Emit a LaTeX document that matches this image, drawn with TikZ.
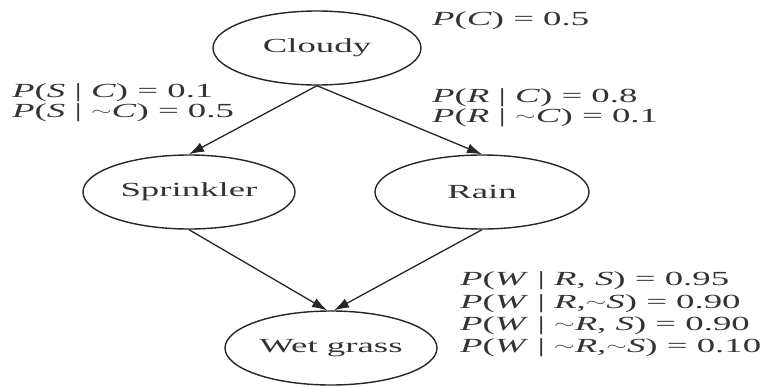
\documentclass[tikz,border=0pt]{standalone}
\usepackage{fontspec}
\setmainfont{Liberation Serif}
\usepackage{graphicx}
\usetikzlibrary{shapes.geometric,arrows.meta,calc}
\newcommand{\hs}[1]{\scalebox{1.84}[1]{#1}}
\newcommand{\nt}{\raisebox{1.6pt}{\fontsize{14}{14}\selectfont$\sim$}}
\newcommand{\mv}[1]{\textit{#1}}
\tikzset{
  bnode/.style={draw=black!85, line width=1.4pt, ellipse, inner sep=0pt,
    minimum width=#1, minimum height=74pt, text=black!80},
  bnode/.default=210pt,
  lbl/.style={inner sep=0pt, anchor=base west, text=black!80},
  edge/.style={draw=black!85, line width=1.3pt, -{Latex[length=15pt,width=10pt]}}
}
\begin{document}
\begin{tikzpicture}[x=1pt,y=-1pt, font=\fontsize{20}{24}\selectfont]
\useasboundingbox (0,0) rectangle (761,386);
\node[bnode=208pt] (cloudy) at (317,48) {\hs{Cloudy}};
\node[bnode=212pt] (sprinkler) at (189,192) {\hs{Sprinkler}};
\node[bnode=214pt] (rain) at (482,192) {\hs{Rain}};
\node[bnode=212pt] (wet) at (331,348) {\hs{Wet grass}};
\draw[edge] (cloudy.south) -- (sprinkler.north);
\draw[edge] (cloudy.south) -- (rain.north);
\draw[edge] (sprinkler.south) -- ($(wet.north)+(-4,0)$);
\draw[edge] (rain.south) -- ($(wet.north)+(3,0)$);
\node[lbl] (pc) at (432,25) {\hs{\mv{P}(\mv{C}) = 0.5}};
\node[lbl] (ps1) at (12,97) {\hs{\mv{P}(\mv{S} | \mv{C}) = 0.1}};
\node[lbl] (ps2) at (12,117) {\hs{\mv{P}(\mv{S} | \nt\mv{C}) = 0.5}};
\node[lbl] (pr1) at (432,102) {\hs{\mv{P}(\mv{R} | \mv{C}) = 0.8}};
\node[lbl] (pr2) at (432,122) {\hs{\mv{P}(\mv{R} | \nt\mv{C}) = 0.1}};
\node[lbl] (pw1) at (460,285) {\hs{\mv{P}(\mv{W} | \mv{R}, \mv{S}) = 0.95}};
\node[lbl] (pw2) at (460,308) {\hs{\mv{P}(\mv{W} | \mv{R},\nt\mv{S}) = 0.90}};
\node[lbl] (pw3) at (460,330) {\hs{\mv{P}(\mv{W} | \nt\mv{R}, \mv{S}) = 0.90}};
\node[lbl] (pw4) at (460,352) {\hs{\mv{P}(\mv{W} | \nt\mv{R},\nt\mv{S}) = 0.10}};
\end{tikzpicture}
\end{document}
